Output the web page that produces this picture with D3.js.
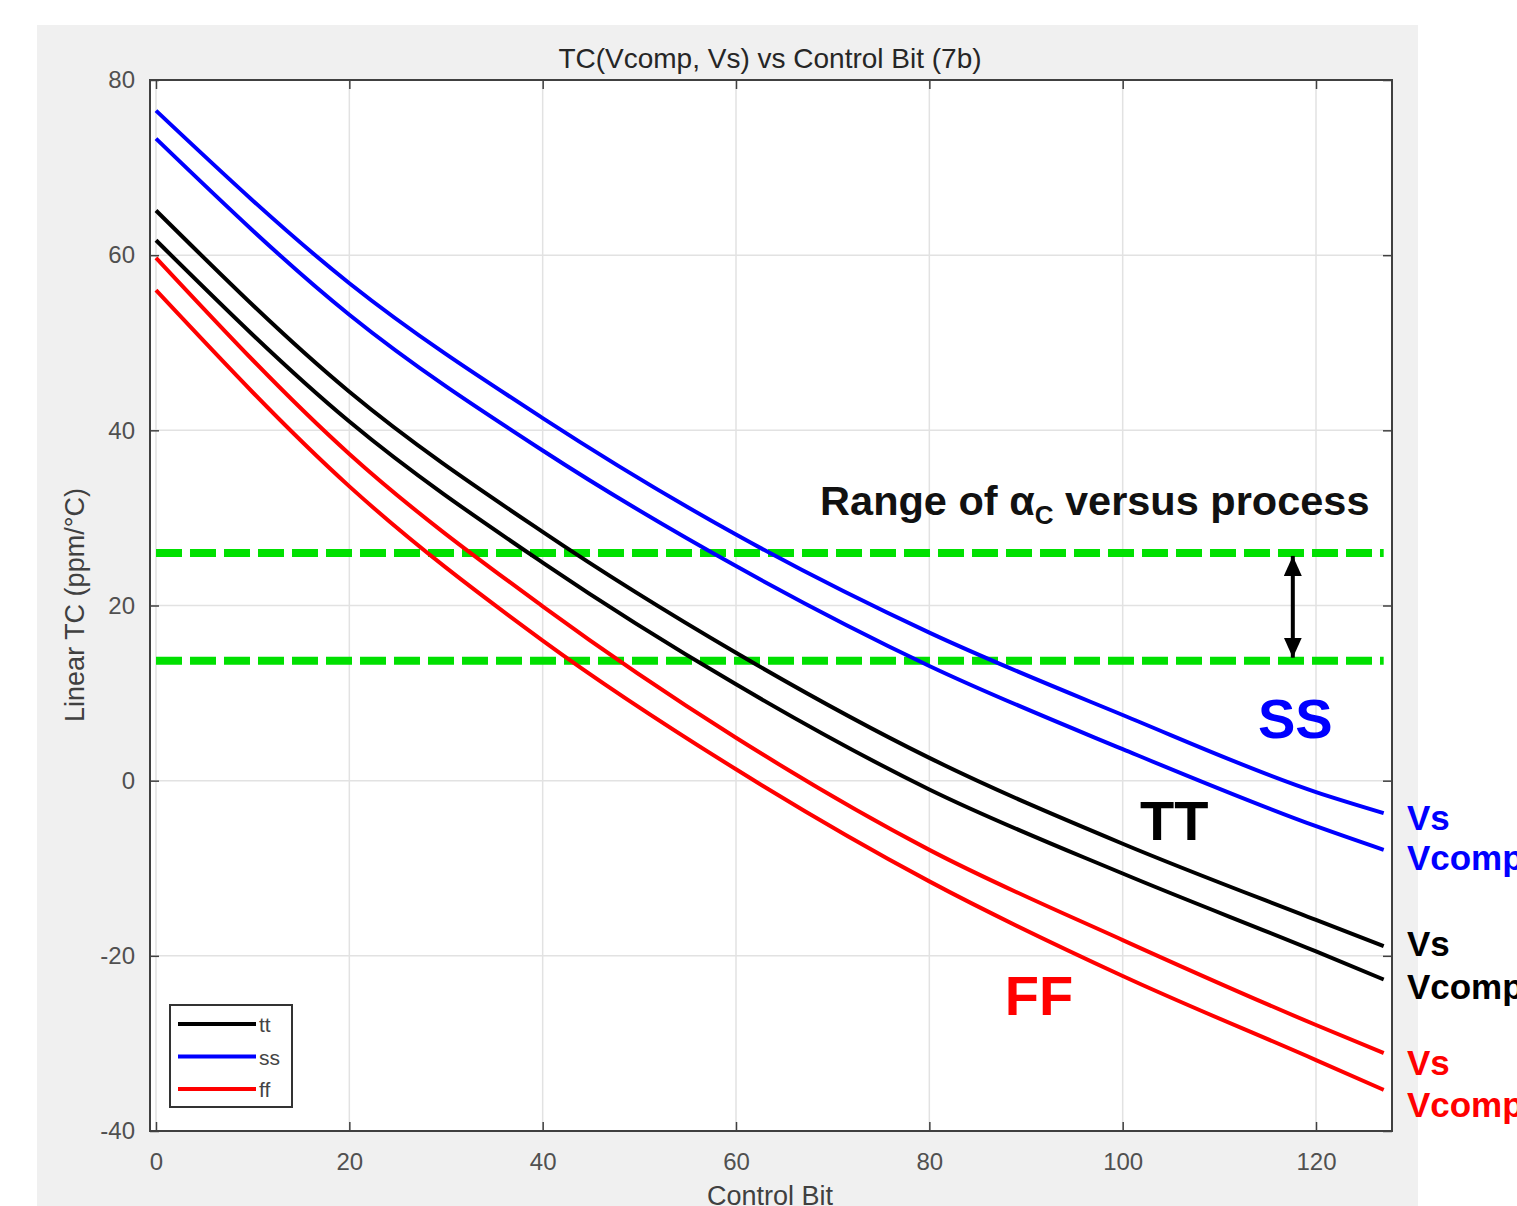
<!DOCTYPE html>
<html>
<head>
<meta charset="utf-8">
<script src="https://cdn.jsdelivr.net/npm/d3@7"></script>
<style>
body { margin: 0; background: #fff; }
text { font-family: "Liberation Sans", Arial, Helvetica, sans-serif; }
</style>
</head>
<body>
<div id="chart"></div>
<script>

// values
var controlBit = [0, 20, 40, 60, 80, 100, 120, 127];
var ssVs    = [76.5, 56.8, 41.4, 28.1, 16.9, 7.5, -1.3, -3.7];
var ssVcomp = [73.3, 53.2, 37.7, 24.5, 13.1, 3.6, -5.2, -7.9];
var ttVs    = [65.1, 44.4, 28.4, 14.6, 2.6, -7.2, -15.9, -18.9];
var ttVcomp = [61.7, 41.0, 24.9, 11.0, -1.0, -10.6, -19.5, -22.7];
var ffVs    = [59.7, 37.3, 19.9, 4.9, -7.9, -18.2, -27.9, -31.1];
var ffVcomp = [56.0, 33.6, 16.0, 1.3, -11.5, -22.3, -31.9, -35.3];

var rangeBounds = [26.0, 13.7];
var xTicks = [0, 20, 40, 60, 80, 100, 120];
var yTicks = [-40, -20, 0, 20, 40, 60, 80];
var legendNames = ["tt", "ss", "ff"];

var series = [
	{ name: "tt", color: "#000000", vs: ttVs, vcomp: ttVcomp },
	{ name: "ss", color: "#0000ff", vs: ssVs, vcomp: ssVcomp },
	{ name: "ff", color: "#ff0000", vs: ffVs, vcomp: ffVcomp }
];
// small nudges for the end labels (px below the line end)
var labelNudge = { tt: [10, 20], ss: [17, 20], ff: [22, 27] };

var W = 1517, H = 1206;
var plotLeft = 150, plotRight = 1392, plotTop = 80, plotBottom = 1131;

var svg = d3.select("#chart").append("svg")
	.attr("width", W)
	.attr("height", H);

// gray figure background
svg.append("rect")
	.attr("x", 37).attr("y", 25)
	.attr("width", 1381).attr("height", H - 25)
	.attr("fill", "#f0f0f0");

svg.append("rect")
	.attr("x", plotLeft).attr("y", plotTop)
	.attr("width", plotRight - plotLeft).attr("height", plotBottom - plotTop)
	.attr("fill", "#fff");

var x = d3.scaleLinear().domain([-0.62, 127.86]).range([plotLeft, plotRight]);
var y = d3.scaleLinear().domain([-40, 80]).range([plotBottom, plotTop]);

// grid
svg.append("g").selectAll("line").data(xTicks).enter().append("line")
	.attr("x1", function(d) { return x(d); }).attr("x2", function(d) { return x(d); })
	.attr("y1", plotTop).attr("y2", plotBottom)
	.attr("stroke", "#e2e2e2").attr("stroke-width", 1.5);
svg.append("g").selectAll("line").data(yTicks).enter().append("line")
	.attr("y1", function(d) { return y(d); }).attr("y2", function(d) { return y(d); })
	.attr("x1", plotLeft).attr("x2", plotRight)
	.attr("stroke", "#e2e2e2").attr("stroke-width", 1.5);

//axes, ticks pointing in like matlab
function styleAxis(g) {
	g.select(".domain").remove();
	g.selectAll(".tick line").attr("stroke", "#404040").attr("stroke-width", 1.5);
	g.selectAll(".tick text").attr("fill", "#505050").style("font-size", "24px");
}
var plain = function(d) { return String(d); };
svg.append("g").attr("transform", "translate(0," + plotBottom + ")")
	.call(d3.axisBottom(x).tickValues(xTicks).tickFormat(plain).tickSize(-9).tickPadding(22)).call(styleAxis);
svg.append("g").attr("transform", "translate(0," + plotTop + ")")
	.call(d3.axisTop(x).tickValues(xTicks).tickSize(-9).tickFormat("")).call(styleAxis);
svg.append("g").attr("transform", "translate(" + plotLeft + ",0)")
	.call(d3.axisLeft(y).tickValues(yTicks).tickFormat(plain).tickSize(-9).tickPadding(15)).call(styleAxis);
svg.append("g").attr("transform", "translate(" + plotRight + ",0)")
	.call(d3.axisRight(y).tickValues(yTicks).tickSize(-9).tickFormat("")).call(styleAxis);

svg.selectAll(".tick text").attr("font-family", null);

svg.append("rect")
	.attr("x", plotLeft).attr("y", plotTop)
	.attr("width", plotRight - plotLeft).attr("height", plotBottom - plotTop)
	.attr("fill", "none").attr("stroke", "#404040").attr("stroke-width", 2);

// green range lines
svg.append("g").selectAll("line").data(rangeBounds).enter().append("line")
	.attr("x1", x(0)).attr("x2", x(127))
	.attr("y1", function(d) { return y(d); }).attr("y2", function(d) { return y(d); })
	.attr("stroke", "#00e000").attr("stroke-width", 8)
	.attr("stroke-dasharray", "26,8");

// curves
var line = d3.line()
	.x(function(d, i) { return x(controlBit[i]); })
	.y(function(d) { return y(d); })
	.curve(d3.curveMonotoneX);

series.forEach(function(s) {
	[s.vs, s.vcomp].forEach(function(vals) {
		svg.append("path")
			.attr("d", line(vals))
			.attr("fill", "none")
			.attr("stroke", s.color)
			.attr("stroke-width", 4);
	});
	var last = controlBit.length - 1;
	svg.append("text")
		.attr("x", x(129.4)).attr("y", y(s.vs[last]) + labelNudge[s.name][0])
		.attr("fill", s.color).attr("font-weight", "bold").style("font-size", "35px")
		.text("Vs");
	svg.append("text")
		.attr("x", x(129.4)).attr("y", y(s.vcomp[last]) + labelNudge[s.name][1])
		.attr("fill", s.color).attr("font-weight", "bold").style("font-size", "35px")
		.text("Vcomp");
});

// double arrow between range lines
var defs = svg.append("defs");
defs.append("marker").attr("id", "head")
	.attr("viewBox", "0 0 20 18").attr("refX", 20).attr("refY", 9)
	.attr("markerUnits", "userSpaceOnUse")
	.attr("markerWidth", 20).attr("markerHeight", 18)
	.attr("orient", "auto-start-reverse")
	.append("path").attr("d", "M0,0 L20,9 L0,18 Z").attr("fill", "#000");

svg.append("line")
	.attr("x1", x(117.6)).attr("x2", x(117.6))
	.attr("y1", y(rangeBounds[0]) + 3).attr("y2", y(rangeBounds[1]) - 3)
	.attr("stroke", "#000").attr("stroke-width", 4)
	.attr("marker-start", "url(#head)").attr("marker-end", "url(#head)");

// annotations
var rt = svg.append("text")
	.attr("x", x(68.7)).attr("y", y(30.3))
	.attr("font-weight", "bold").style("font-size", "41.5px").attr("fill", "#111");
rt.append("tspan").text("Range of \u03b1");
rt.append("tspan").attr("dy", 9).style("font-size", "26px").text("C");
rt.append("tspan").attr("dy", -9).text(" versus process");

svg.append("text").attr("x", x(114)).attr("y", y(4.9))
	.attr("fill", "#0000ff").attr("font-weight", "bold").style("font-size", "56px").text("SS");
svg.append("text").attr("x", x(101.8)).attr("y", y(-6.8))
	.attr("fill", "#000").attr("font-weight", "bold").style("font-size", "56px").text("TT");
svg.append("text").attr("x", x(87.8)).attr("y", y(-26.8))
	.attr("fill", "#ff0000").attr("font-weight", "bold").style("font-size", "56px").text("FF");

// titles
svg.append("text").attr("x", 770).attr("y", 68).attr("text-anchor", "middle")
	.attr("fill", "#262626").style("font-size", "28px")
	.text("TC(Vcomp, Vs) vs Control Bit (7b)");
svg.append("text").attr("x", 770).attr("y", 1205).attr("text-anchor", "middle")
	.attr("fill", "#404040").style("font-size", "27px")
	.text("Control Bit");
svg.append("text")
	.attr("transform", "translate(84,605) rotate(-90)")
	.attr("text-anchor", "middle")
	.attr("fill", "#404040").style("font-size", "27px")
	.text("Linear TC (ppm/\u00b0C)");

// legend
var lg = svg.append("g");
lg.append("rect").attr("x", 170).attr("y", 1005).attr("width", 122).attr("height", 102)
	.attr("fill", "#fff").attr("stroke", "#333").attr("stroke-width", 2);
legendNames.forEach(function(n, i) {
	var s = series.filter(function(d) { return d.name == n; })[0];
	lg.append("line").attr("x1", 178).attr("x2", 256)
		.attr("y1", 1024 + i * 32.5).attr("y2", 1024 + i * 32.5)
		.attr("stroke", s.color).attr("stroke-width", 4);
	lg.append("text").attr("x", 259).attr("y", 1024 + i * 32.5 + 8)
		.attr("fill", "#444").style("font-size", "21px").text(n);
});

</script>
</body>
</html>
